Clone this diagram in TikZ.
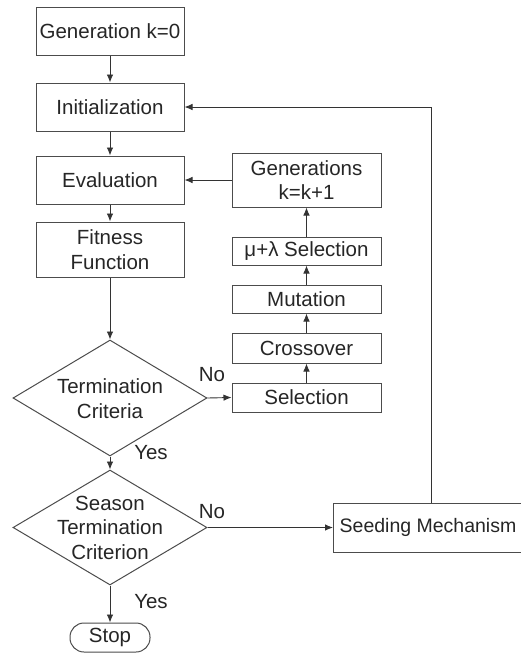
\documentclass[tikz,border=0pt]{standalone}
\usepackage{fontspec}
\setmainfont{Liberation Sans}
\usetikzlibrary{shapes.geometric,arrows.meta}
\begin{document}
\begin{tikzpicture}[x=1pt,y=-1pt,
  every node/.style={font=\fontsize{20.5}{24.5}\selectfont, text=black!85},
  box/.style={draw=black!70, line width=1pt, rectangle, inner sep=0pt, align=center},
  dia/.style={draw=black!70, line width=1pt, diamond, inner sep=0pt},
  txt/.style={align=center, inner sep=0pt},
  arr/.style={draw=black!80, line width=0.9pt, -{Latex[length=8pt,width=6.5pt]}},
  ln/.style={draw=black!80, line width=0.9pt}]
\useasboundingbox (0,0) rectangle (520,654);
\fill[white] (0,0) rectangle (520,654);
% left column
\node[box, minimum width=148pt, minimum height=48pt] (gen0) at (110,31) {Generation k=0};
\node[box, minimum width=148pt, minimum height=48pt] (init) at (110,107) {Initialization};
\node[box, minimum width=148pt, minimum height=48pt] (eval) at (110,180) {Evaluation};
\node[box, minimum width=148pt, minimum height=55pt] (fit) at (110,249.5) {Fitness\\Function};
\node[dia, minimum width=194pt, minimum height=116pt] (term) at (110,398) {};
\node[txt] (termt) at (110,398.5) {Termination\\Criteria};
\node[dia, minimum width=194pt, minimum height=115pt] (season) at (110,527.5) {};
\node[txt] (seasont) at (110,527.5) {Season\\Termination\\Criterion};
\node[draw=black!70, line width=1pt, rounded corners=14pt, minimum width=80pt, minimum height=29pt, inner sep=0pt] (stop) at (110,637.5) {Stop};
% right column
\node[box, minimum width=149pt, minimum height=54pt] (gen1) at (306.5,180) {Generations\\k=k+1};
\node[box, minimum width=149pt, minimum height=28pt] (mu) at (306.5,251) {μ+λ Selection};
\node[box, minimum width=149pt, minimum height=28pt] (mut) at (306.5,299) {Mutation};
\node[box, minimum width=149pt, minimum height=30pt] (cross) at (306.5,348) {Crossover};
\node[box, minimum width=149pt, minimum height=29pt] (sel) at (306.5,397.5) {Selection};
\node[box, minimum width=195pt, minimum height=49pt, anchor=west, align=left] (seed) at (333,527.5) {\hspace{3pt}\fontsize{19.5}{23}\selectfont Seeding Mechanism\hspace{9pt}};
% labels
\node[txt] (no1) at (212,375) {No};
\node[txt] (no2) at (212,512) {No};
\node[txt] (yes1) at (151,453) {Yes};
\node[txt] (yes2) at (151,602) {Yes};
% connectors
\draw[arr] (gen0) -- (init);
\draw[arr] (init) -- (eval);
\draw[arr] (eval) -- (fit);
\draw[arr] (fit) -- (term.north);
\draw[arr] (term.south) -- (season.north);
\draw[arr] (season.south) -- (stop.north);
\draw[arr] (term.east) -- (sel.west);
\draw[arr] (sel) -- (cross);
\draw[arr] (cross) -- (mut);
\draw[arr] (mut) -- (mu);
\draw[arr] (mu) -- (gen1);
\draw[arr] (gen1.west) -- (eval.east);
\draw[arr] (season.east) -- (seed.west);
\draw[arr] (seed.north) |- (init.east);
\end{tikzpicture}
\end{document}
